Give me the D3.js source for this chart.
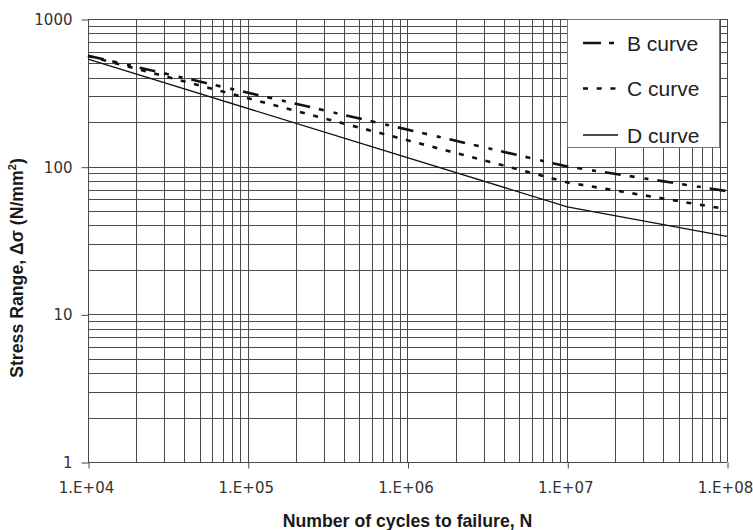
<!DOCTYPE html>
<html>
<head>
<meta charset="utf-8">
<script src="https://cdn.jsdelivr.net/npm/d3@7"></script>
<style>
  html, body { margin: 0; padding: 0; background: #fff; }
  svg { display: block; }
</style>
</head>
<body>
<svg id="chart" width="753" height="530"></svg>
<script>
// ---- data ----
const cycles = [1e4, 1e7, 1e8];
const bCurve = [564, 100.2, 68.3];
const cCurve = [562, 78.2, 51.5];
const dCurve = [534, 53.4, 33.7];
const seriesNames = ["B curve", "C curve", "D curve"];
const xTickLabels = ["1.E+04", "1.E+05", "1.E+06", "1.E+07", "1.E+08"];
const xTickValues = [1e4, 1e5, 1e6, 1e7, 1e8];
const yTickLabels = ["1", "10", "100", "1000"];
const yTickValues = [1, 10, 100, 1000];

// ---- layout ----
const svg = d3.select("#chart");
const L = 88, R = 727, T = 19, B = 462;
const x = d3.scaleLog().domain([1e4, 1e8]).range([L, R]);
const y = d3.scaleLog().domain([1, 1000]).range([B, T]);
const gridColor = "#4a4a4a";

// minor + major gridlines
const xGrid = [];
for (let e = 4; e < 8; e++) for (let k = 1; k <= 9; k++) xGrid.push(k * Math.pow(10, e));
xGrid.push(1e8);
const yGrid = [];
for (let e = 0; e < 3; e++) for (let k = 1; k <= 9; k++) yGrid.push(k * Math.pow(10, e));
yGrid.push(1000);

const g = svg.append("g");
g.selectAll("line.vg").data(xGrid).join("line")
  .attr("x1", d => Math.round(x(d)) + 0.5).attr("x2", d => Math.round(x(d)) + 0.5)
  .attr("y1", T).attr("y2", B)
  .attr("stroke", gridColor).attr("stroke-width", 1);
g.selectAll("line.hg").data(yGrid).join("line")
  .attr("y1", d => Math.round(y(d)) + 0.5).attr("y2", d => Math.round(y(d)) + 0.5)
  .attr("x1", L).attr("x2", R)
  .attr("stroke", gridColor).attr("stroke-width", 1);

// axes (major ticks only, outside)
const xAxis = d3.axisBottom(x).tickValues(xTickValues).tickSize(6)
  .tickFormat((d, i) => xTickLabels[i]);
const gx = svg.append("g").attr("transform", `translate(0,${B + 0.5})`).call(xAxis);
gx.select(".domain").attr("stroke", gridColor).attr("d", `M${L},0H${R}`);
gx.selectAll(".tick line").attr("stroke", gridColor).attr("transform", "translate(0.5,0)");
gx.selectAll(".tick text").attr("font-family", "DejaVu Sans").attr("font-size", 15)
  .attr("fill", "#333").attr("dy", "1.45em").attr("dx", -2);

const yAxis = d3.axisLeft(y).tickValues(yTickValues).tickSize(7)
  .tickFormat((d, i) => yTickLabels[i]);
const gy = svg.append("g").attr("transform", `translate(${L + 0.5},0)`).call(yAxis);
gy.select(".domain").attr("stroke", gridColor).attr("d", `M0,${T}V${B}`);
gy.selectAll(".tick line").attr("stroke", gridColor).attr("transform", "translate(0,0.5)");
gy.selectAll(".tick text").attr("font-family", "DejaVu Sans").attr("font-size", 15)
  .attr("fill", "#333").attr("x", -16).attr("dy", "0.36em");

// curves
const line = d3.line().x(d => x(d[0])).y(d => y(d[1]));
const styles = [
  { w: 2.6, dash: "16,9,5,10,4,9", legDash: "18,8,5,10" },
  { w: 2.6, dash: "5,8.7", legDash: "5,8.7" },
  { w: 1.3, dash: null, legDash: null }
];
const allSeries = [bCurve, cCurve, dCurve];
allSeries.forEach((vals, i) => {
  svg.append("path")
    .datum(cycles.map((c, j) => [c, vals[j]]))
    .attr("d", line)
    .attr("fill", "none")
    .attr("stroke", "#111")
    .attr("stroke-width", styles[i].w)
    .attr("stroke-dasharray", styles[i].dash);
});

// legend
const lg = svg.append("g");
lg.append("rect").attr("x", 567.5).attr("y", 19.5).attr("width", 152).attr("height", 128)
  .attr("fill", "#fff").attr("stroke", "#777").attr("stroke-width", 1);
const legY = [43, 88.5, 135];
seriesNames.forEach((name, i) => {
  lg.append("line").attr("x1", 583).attr("x2", 618).attr("y1", legY[i]).attr("y2", legY[i])
    .attr("stroke", "#111").attr("stroke-width", styles[i].w)
    .attr("stroke-dasharray", styles[i].legDash);
  lg.append("text").attr("x", 627).attr("y", legY[i] + 7.8)
    .attr("font-family", "Liberation Sans, Arial, sans-serif").attr("font-size", 21)
    .attr("fill", "#222").text(name);
});

// axis titles
svg.append("text").attr("x", (L + R) / 2).attr("y", 527)
  .attr("text-anchor", "middle")
  .attr("font-family", "Liberation Sans, Arial, sans-serif").attr("font-weight", "bold")
  .attr("font-size", 17.7).attr("fill", "#1a1a1a")
  .text("Number of cycles to failure, N");

const yt = svg.append("text")
  .attr("transform", "translate(23,268) rotate(-90)")
  .attr("text-anchor", "middle")
  .attr("font-family", "Liberation Sans, Arial, sans-serif").attr("font-weight", "bold")
  .attr("font-size", 17.7).attr("fill", "#1a1a1a");
yt.append("tspan").text("Stress Range, Δσ (N/mm");
yt.append("tspan").attr("font-size", 11).attr("dy", -7).text("2");
yt.append("tspan").attr("dy", 7).text(")");
</script>
</body>
</html>
